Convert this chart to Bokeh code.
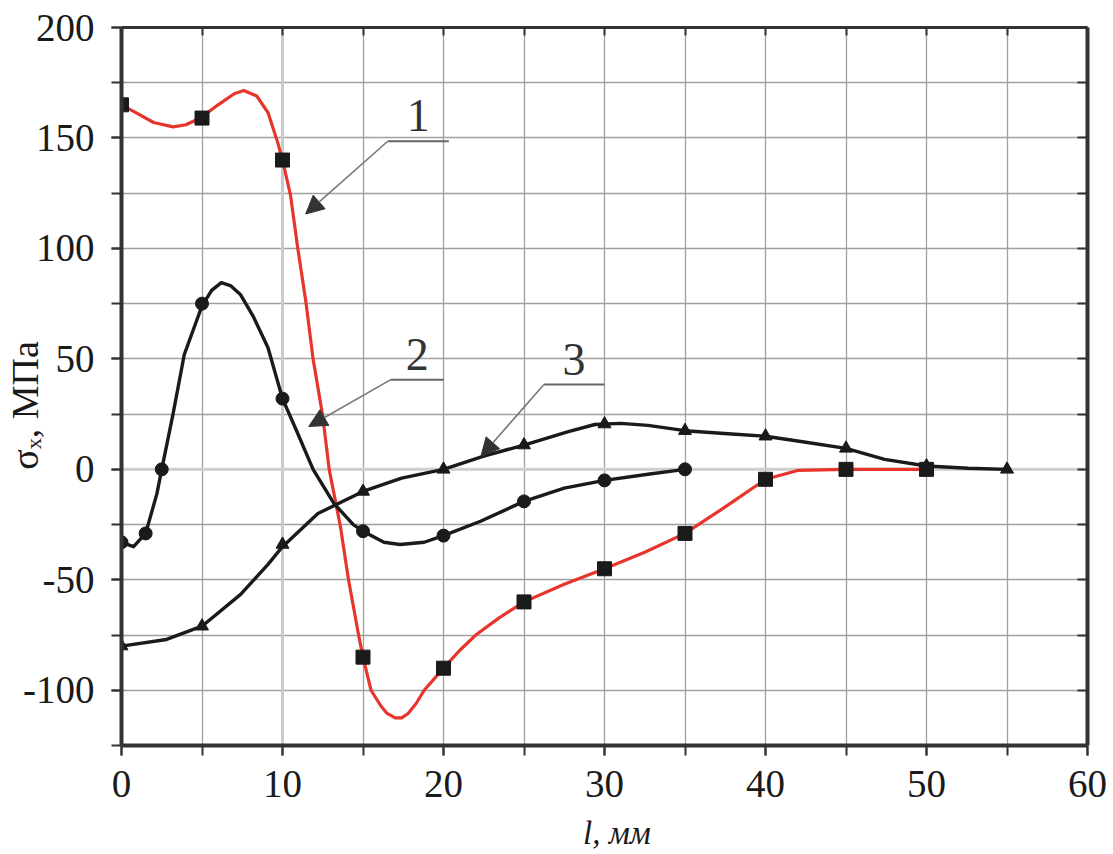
from bokeh.plotting import figure
from bokeh.models import (Range1d, LinearAxis, SingleIntervalTicker, Span, Label,
                          Arrow, NormalHead, Grid)
from bokeh.embed import file_html
from bokeh.resources import INLINE

# ---- curve 1 (red, squares): smooth line ----
c1_x = [0, 1, 2, 3.2, 4, 4.9, 6, 7, 7.6, 8.4, 9.1, 9.7, 10, 10.5, 10.95, 11.45, 11.9,
        12.5, 12.9, 13.6, 14.1, 14.7, 15, 15.5, 16.1, 16.5, 17, 17.4, 17.8, 18.3, 18.8,
        20, 21, 22, 23.5, 25, 27.5, 30, 32.5, 35, 37.5, 40, 42, 45, 47.5, 50]
c1_y = [165, 161, 157, 155, 156, 159, 165, 170, 171.5, 169, 161.5, 148, 140, 124, 100,
        76, 50, 24, 0, -26, -50, -74, -85, -100, -107, -110.5, -112.5, -112.5, -110.5,
        -106, -100, -90, -82, -75, -67, -60, -52, -45, -37.5, -29, -17, -4.5, -0.5,
        0, 0, 0]
m1_x = [0, 5, 10, 15, 20, 25, 30, 35, 40, 45, 50]
m1_y = [165, 159, 140, -85, -90, -60, -45, -29, -4.5, 0, 0]

# ---- curve 2 (black, circles) ----
c2_x = [0, 0.75, 1.5, 2.2, 2.5, 3.2, 3.9, 5, 5.6, 6.2, 6.8, 7.4, 8.2, 9.1, 10, 10.9,
        11.9, 13.2, 14.4, 15, 16.3, 17.3, 18.8, 20, 22.3, 25, 27.5, 30, 32.7, 35]
c2_y = [-33, -35, -29, -11, 0, 25, 52, 74, 81, 84.5, 83, 79, 69, 55, 32, 17, 0, -15.5,
        -25, -28, -33, -34, -33, -30, -23.5, -14.5, -8.5, -5, -2.2, 0]
m2_x = [0, 1.5, 2.5, 5, 10, 15, 20, 25, 30, 35]
m2_y = [-33, -29, 0, 75, 32, -28, -30, -14.5, -5, 0]

# ---- curve 3 (black, triangles) ----
c3_x = [0, 2.8, 5, 7.4, 9.1, 10, 12.2, 15, 17.4, 20, 22.5, 25, 27.7, 29.4, 31, 32.7,
        35, 37.9, 40, 42.2, 45, 47.4, 50, 52.6, 55]
c3_y = [-80, -77, -71, -56.6, -43, -35, -20, -10, -4, 0, 6, 11, 17, 20.3, 20.8, 19.9,
        17.5, 16, 15, 12.6, 9.5, 4.5, 1.5, 0.5, 0]
m3_x = [0, 5, 10, 15, 20, 25, 30, 35, 40, 45, 50, 55]
m3_y = [-80, -71, -34, -10, 0, 11, 20.5, 17.5, 15, 9.5, 1.5, 0]

# ---- curve number callouts: label, underline x0, x1, y, arrow tip x, y ----
call_text = ["1", "2", "3"]
call_x0 = [16.54, 16.73, 26.24]
call_x1 = [20.33, 20.02, 29.98]
call_y = [148.5, 40.6, 38.4]
tip_x = [11.44, 11.63, 22.33]
tip_y = [115.6, 19.4, 5.9]

x_ticks = [0, 10, 20, 30, 40, 50, 60]
y_ticks = [-100, -50, 0, 50, 100, 150, 200]
NB = "\u00a0"
x_title = NB * 3 + "l, мм"
y_title = "σₓ, МПа" + NB * 4

FONT = "Liberation Serif"
INK = "#1a1a1a"
RED = "#e8352c"

p = figure(width=1113, height=854, output_backend="svg", toolbar_location=None,
           x_range=Range1d(0, 60), y_range=Range1d(-125, 200),
           x_axis_type=None, y_axis_type=None,
           min_border_left=121, min_border_right=26, min_border_top=27,
           min_border_bottom=109)
p.outline_line_color = None
p.background_fill_color = "white"
p.border_fill_color = "white"

# grid
p.add_layout(Grid(dimension=0, ticker=SingleIntervalTicker(interval=5),
                  grid_line_color="#a0a0a0", grid_line_width=1.3))
p.add_layout(Grid(dimension=1, ticker=SingleIntervalTicker(interval=25),
                  grid_line_color="#a0a0a0", grid_line_width=1.3))
p.add_layout(Span(location=10, dimension="height", line_color="#c3ccd3",
                  line_width=3, level="underlay"))
p.add_layout(Span(location=0, dimension="width", line_color="#cfcfcf",
                  line_width=3, level="underlay"))


def style_axis(ax, tin, tout, labels=True):
    ax.axis_line_color = "#333333"
    ax.axis_line_width = 4
    ax.major_tick_in = tin
    ax.major_tick_out = tout
    ax.minor_tick_in = tin
    ax.minor_tick_out = tout
    ax.major_tick_line_color = "#333333"
    ax.minor_tick_line_color = "#333333"
    ax.major_tick_line_width = 2
    ax.minor_tick_line_width = 2
    ax.axis_label_text_font = FONT
    ax.axis_label_text_color = INK
    ax.axis_label_text_font_style = "normal"
    if labels:
        ax.major_label_text_font = FONT
        ax.major_label_text_font_size = "39px"
        ax.major_label_text_color = INK
    else:
        ax.major_label_text_font_size = "1px"
        ax.major_label_text_color = None
        ax.major_label_standoff = 0


xb = LinearAxis(ticker=SingleIntervalTicker(interval=10, num_minor_ticks=2))
style_axis(xb, 0, 10)
xb.major_label_standoff = 15
xb.major_label_overrides = {t: str(t) for t in x_ticks}
xb.axis_label = x_title
xb.axis_label_text_font_size = "33px"
xb.axis_label_text_font_style = "italic"
xb.axis_label_standoff = 15
p.add_layout(xb, "below")

yl = LinearAxis(ticker=SingleIntervalTicker(interval=50, num_minor_ticks=2))
style_axis(yl, 0, 10)
yl.major_label_standoff = 17
yl.major_label_overrides = {t: str(t) for t in y_ticks}
yl.axis_label = y_title
yl.axis_label_text_font_size = "38px"
yl.axis_label_standoff = -26
p.add_layout(yl, "left")

yr = LinearAxis(ticker=SingleIntervalTicker(interval=25, num_minor_ticks=0))
style_axis(yr, 10, 0, labels=False)
p.add_layout(yr, "right")

xt = LinearAxis(ticker=SingleIntervalTicker(interval=5, num_minor_ticks=0))
style_axis(xt, 8, 0, labels=False)
xt.axis_line_width = 3
p.add_layout(xt, "above")

# curves
p.line(c1_x, c1_y, line_color=RED, line_width=3.2, line_join="round")
p.line(c2_x, c2_y, line_color=INK, line_width=3.4, line_join="round")
p.line(c3_x, c3_y, line_color=INK, line_width=3.4, line_join="round")
p.scatter(m1_x, m1_y, marker="square", size=14, fill_color=INK, line_color=INK)
p.scatter(m2_x, m2_y, marker="circle", size=13, fill_color=INK, line_color=INK)
p.scatter(m3_x, m3_y, marker="triangle", size=13, fill_color=INK, line_color=INK)

# callouts
for t, x0, x1, y, tx, ty in zip(call_text, call_x0, call_x1, call_y, tip_x, tip_y):
    p.segment(x0=[x0], y0=[y], x1=[x1], y1=[y], line_color="#666666", line_width=2)
    p.add_layout(Arrow(end=NormalHead(size=18, fill_color="#333333",
                                      line_color="#333333", line_width=1),
                       x_start=x0, y_start=y, x_end=tx, y_end=ty,
                       line_color="#777777", line_width=1.6))
    p.add_layout(Label(x=(x0 + x1) / 2, y=y + 4.5, text=t, text_font=FONT,
                       text_font_size="46px", text_color="#333333",
                       text_align="center", text_baseline="bottom"))

open("out.html", "w").write(file_html(p, INLINE))
